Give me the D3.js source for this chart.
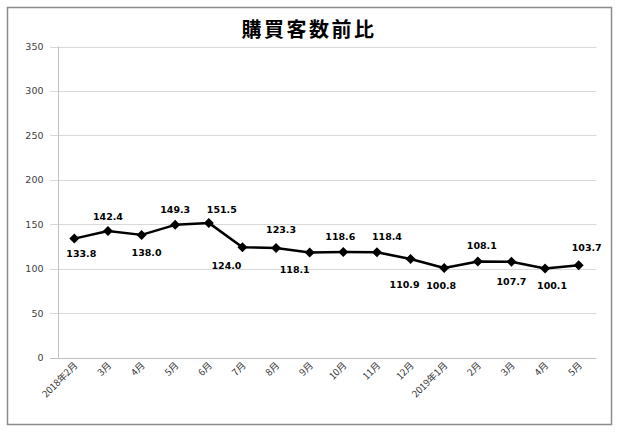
<!DOCTYPE html>
<html><head><meta charset="utf-8">
<script src="https://cdn.jsdelivr.net/npm/d3@7"></script>
<style>body{margin:0;background:#fff}svg{display:block}</style>
</head><body>
<svg id="c" width="620" height="432"></svg>
<script>
const title = "購買客数前比";
const categories = ["2018年2月","3月","4月","5月","6月","7月","8月","9月","10月","11月","12月","2019年1月","2月","3月","4月","5月"];
const values = [133.8,142.4,138.0,149.3,151.5,124.0,123.3,118.1,118.6,118.4,110.9,100.8,108.1,107.7,100.1,103.7];
const yTicks = [0,50,100,150,200,250,300,350];
// label offsets relative to each point [dx, dy]
const labelOffsets = [[7,18],[0,-11],[5,21],[0,-12],[13,-9.5],[-16,22],[5,-15],[-15,20],[-3,-12],[10,-12],[-6,29],[-3,21],[4,-12],[0,23],[7,20],[8,-14]];

const svg = d3.select("#c");
svg.append("rect").attr("x",7.5).attr("y",7.5).attr("width",604).attr("height",417)
  .attr("fill","#fff").attr("stroke","#8c8c8c").attr("stroke-width",1.5);

const x = d3.scaleBand().domain(d3.range(categories.length)).range([57.5,595.5]);
const y = d3.scaleLinear().domain([0,350]).range([357.5,46.5]);
const cx = i=>x(i)+x.bandwidth()/2;

svg.append("text").attr("x",309).attr("y",37).attr("text-anchor","middle")
  .attr("font-family","Noto Sans CJK JP").attr("font-weight","bold").attr("font-size",20)
  .attr("letter-spacing",2.5).attr("fill","#000").text(title);

// gridlines
svg.append("g").selectAll("line").data(yTicks).join("line")
  .attr("x1",50).attr("x2",596.5).attr("y1",d=>Math.round(y(d))+0.5).attr("y2",d=>Math.round(y(d))+0.5)
  .attr("stroke",d=>d===0?"#bfbfbf":"#d9d9d9").attr("stroke-width",1);

// y axis
const ya = svg.append("g").attr("transform","translate(58.5,0)")
  .call(d3.axisLeft(y).tickValues(yTicks).tickSize(0).tickPadding(15));
ya.select(".domain").attr("stroke","#bfbfbf").attr("d","M0,"+y(350)+"V"+y(0));
ya.selectAll("text").attr("font-family","DejaVu Sans").attr("font-size",9.5).attr("fill","#404040");

// x labels
svg.append("g").selectAll("text").data(categories).join("text")
  .attr("transform",(d,i)=>`translate(${cx(i)+4},366) rotate(-45)`)
  .attr("text-anchor","end").attr("font-family","Noto Sans CJK JP").attr("font-size",9.5)
  .attr("fill","#333").text(d=>d);

const line = d3.line().x((d,i)=>cx(i)).y(d=>y(d));
svg.append("path").datum(values).attr("d",line).attr("fill","none")
  .attr("stroke","#000").attr("stroke-width",2.5).attr("stroke-linejoin","round");

svg.append("g").selectAll("path").data(values).join("path")
  .attr("transform",(d,i)=>`translate(${cx(i)},${y(d)})`)
  .attr("d","M0,-5L5,0L0,5L-5,0Z").attr("fill","#000");

svg.append("g").selectAll("text").data(values).join("text")
  .attr("x",(d,i)=>cx(i)+labelOffsets[i][0])
  .attr("y",(d,i)=>y(d)+labelOffsets[i][1])
  .attr("text-anchor","middle").attr("font-family","DejaVu Sans").attr("font-weight","bold")
  .attr("font-size",9.5).attr("fill","#000").text(d=>d.toFixed(1));
</script>
</body></html>
